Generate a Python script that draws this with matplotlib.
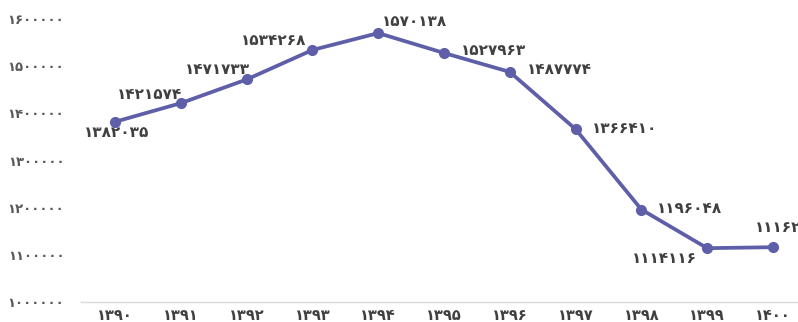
import matplotlib
matplotlib.use("Agg")
import matplotlib.pyplot as plt

# sales per year (solar hijri calendar)
years = [1390, 1391, 1392, 1393, 1394, 1395, 1396, 1397, 1398, 1399, 1400]
values = [1382035, 1421574, 1471733, 1534268, 1570138, 1527963,
          1487774, 1366410, 1196048, 1114116, 1116212]
y_ticks = [1000000, 1100000, 1200000, 1300000, 1400000, 1500000, 1600000]

# label placement per point: (dx, dy) in pixels and horizontal alignment
label_pos = [(2, -11, "center"), (1, 9, "right"), (3, 10, "right"),
             (-6, 10, "right"), (4, 12, "left"), (17, 2, "left"),
             (17, 2, "left"), (16, 1, "left"), (16, 1, "left"),
             (-10, -10, "right"), (-18, 20, "left")]

FA = str.maketrans("0123456789", "۰۱۲۳۴۵۶۷۸۹")


def fa(n):
    return str(n).translate(FA)


line_color = "#5E5FA8"

fig = plt.figure(figsize=(7.98, 3.22), dpi=100)
ax = fig.add_axes([81 / 798, 20 / 322, 717 / 798, 283 / 322])

x = list(range(len(years)))
ax.plot(x, values, color=line_color, lw=2.7, marker="o", ms=7,
        solid_capstyle="round", clip_on=False, zorder=3)

for xi, v, (dx, dy, ha) in zip(x, values, label_pos):
    ax.annotate(fa(v), (xi, v), xytext=(dx, dy), textcoords="offset pixels",
                ha=ha, va="center", fontsize=11, fontweight="bold",
                color="#404040", fontfamily="DejaVu Sans",
                annotation_clip=False)

ax.set_xlim((81 - 115) / 65.8, (798 - 115) / 65.8)
ax.set_ylim(1000000, 1600000)

ax.set_xticks(x)
ax.set_xticklabels([fa(y) for y in years], fontsize=10.5, fontweight="bold",
                   color="#404040")
ax.set_yticks(y_ticks)
ax.set_yticklabels([fa(t) for t in y_ticks], fontsize=9.5, fontweight="bold",
                   color="#595959")
ax.tick_params(length=0)
ax.tick_params(axis="x", pad=4)
ax.tick_params(axis="y", pad=12)

for side in ["top", "right", "left"]:
    ax.spines[side].set_visible(False)
ax.spines["bottom"].set_color("#D9D9D9")
ax.spines["bottom"].set_linewidth(1)

fig.savefig("out.png", dpi=100)
